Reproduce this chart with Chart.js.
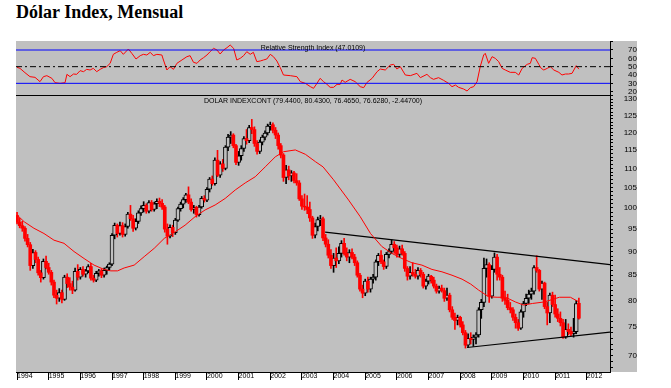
<!DOCTYPE html>
<html>
<head>
<meta charset="utf-8">
<script src="https://cdn.jsdelivr.net/npm/chart.js@4.4.0/dist/chart.umd.min.js"></script>
<style>
  body { margin: 0; background: #fff; width: 671px; height: 388px; position: relative; overflow: hidden; }
  #title { position: absolute; left: 16px; top: 3px; font: bold 18px "Liberation Serif", "Times New Roman", serif; line-height: 18px; white-space: nowrap; }
  #panel { position: absolute; left: 16px; top: 41px; width: 621px; height: 331px; background: #c0c0c0; }
  #rsiChart { position: absolute; left: 16px; top: 41px; }
  #priceChart { position: absolute; left: 16px; top: 95px; }
  .cap { position: absolute; left: 16px; width: 594px; text-align: center; font: 7px "Liberation Sans", Arial, sans-serif; line-height: 7px; color: #000; white-space: nowrap; z-index: 2; }
</style>
</head>
<body>
<div id="title">Dólar Index, Mensual</div>
<div id="panel"></div>
<canvas id="rsiChart" width="621" height="54"></canvas>
<canvas id="priceChart" width="621" height="293"></canvas>
<div class="cap" style="top:44px">Relative Strength Index (47.0109)</div>
<div class="cap" style="top:97px">DOLAR INDEXCONT (79.4400, 80.4300, 76.4650, 76.6280, -2.44700)</div>
<script>
// monthly bars, Jan 1994 .. Oct 2011 (index 0 = Jan 1994)
var opens = [
  98.2,96.6,95.8,95.2,92.9,91.5,87.0,89.8,88.3,85.5,84.5,87.9,
  86.6,85.6,83.6,81.0,80.4,81.5,80.2,84.6,83.3,82.6,82.0,85.8,
  84.6,86.2,85.2,85.9,86.8,84.4,84.0,85.4,85.9,85.0,86.0,86.6,
  87.3,93.6,95.9,94.0,95.8,93.8,95.6,98.5,97.4,95.2,96.8,98.8,
  99.8,100.6,99.2,101.3,99.6,101.0,101.6,101.1,100.2,95.0,93.4,95.4,
  94.2,97.1,99.8,100.9,102.0,103.2,101.4,99.6,100.1,98.4,100.2,102.3,
  101.9,104.6,107.2,106.0,112.2,108.2,111.2,110.0,115.8,118.6,119.2,116.2,
  111.6,113.4,115.4,118.2,117.6,121.4,120.8,116.8,114.6,117.2,118.6,119.8,
  121.8,122.2,120.6,119.2,116.2,113.6,107.6,109.6,108.0,108.8,106.8,106.2,
  102.2,100.4,100.2,99.6,97.6,93.6,95.6,97.2,97.4,93.0,91.6,89.2,
  87.0,88.6,88.0,89.6,91.8,89.6,88.8,89.8,88.8,87.6,85.0,82.2,
  81.4,83.8,82.2,84.2,84.6,87.8,89.2,87.8,86.8,89.4,90.0,91.6,
  90.8,89.4,90.6,89.6,86.4,84.8,85.6,85.2,84.8,86.0,85.2,82.8,
  83.8,84.8,84.0,82.8,81.8,82.4,81.9,80.4,81.0,78.2,76.8,76.2,
  76.8,75.4,74.0,71.8,73.0,72.8,73.2,73.6,78.2,79.6,86.4,87.2,
  80.8,86.2,88.8,85.2,84.6,80.4,80.0,78.6,78.2,76.8,75.8,74.8,
  77.8,79.4,80.4,81.2,81.8,86.6,86.0,82.2,83.4,78.8,77.6,81.0,
  79.2,77.4,76.6,75.8,73.2,74.6,74.2,73.8,74.2,79.44
];
var highs = [
  98.9,97.5,96.8,95.6,93.8,92.0,90.5,90.2,88.8,86.0,88.4,89.0,
  87.5,86.0,84.0,82.0,82.3,82.0,85.0,85.3,84.5,83.8,86.5,87.2,
  86.6,86.8,86.2,87.2,87.5,85.0,85.8,86.2,86.3,86.5,86.9,87.6,
  94.0,96.4,96.2,96.6,96.5,96.2,98.9,100.6,98.2,97.4,99.3,100.5,
  101.5,101.0,101.8,101.8,101.4,102.2,102.4,102.0,100.6,96.2,96.0,95.9,
  97.5,100.2,101.4,102.5,103.6,105.2,102.2,100.6,100.4,100.6,102.8,103.0,
  105.0,107.6,108.0,112.8,114.9,111.8,112.4,116.2,119.4,120.2,119.6,116.6,
  114.6,116.2,118.8,120.8,122.0,123.8,121.6,117.6,117.8,119.2,120.4,122.4,
  123.0,122.8,121.4,119.8,116.8,114.0,110.8,110.6,109.4,109.2,108.6,106.8,
  103.0,103.4,103.0,101.4,98.0,96.4,97.8,98.2,97.8,93.8,92.6,90.4,
  89.6,90.8,91.0,92.4,92.9,90.8,90.4,90.6,89.4,88.0,85.4,83.0,
  84.2,84.6,84.6,85.2,88.2,89.6,90.2,88.2,89.8,90.6,92.6,92.2,
  91.4,91.2,91.4,90.0,86.8,86.8,87.6,86.2,86.6,86.4,85.6,84.2,
  85.2,85.0,84.6,83.2,82.8,83.0,82.4,82.4,81.4,78.8,77.6,77.2,
  77.0,76.0,74.4,73.8,74.0,73.6,74.0,78.6,80.2,88.6,88.4,87.6,
  87.0,89.7,89.4,86.6,85.0,81.8,81.2,79.6,78.6,77.4,76.4,78.2,
  79.8,81.2,82.0,82.4,87.0,89.1,86.2,83.8,83.6,79.6,81.4,81.6,
  81.0,78.4,77.8,76.4,76.4,75.6,75.0,76.6,80.0,80.43
];
var lows = [
  96.2,95.3,94.5,92.3,91.0,86.0,86.4,87.6,85.0,83.6,84.2,86.3,
  85.2,83.0,80.5,79.3,79.8,79.5,80.0,82.5,82.0,81.3,81.8,84.0,
  84.2,84.8,84.6,85.5,84.0,83.6,83.7,84.8,84.5,84.6,85.2,86.0,
  87.0,92.8,93.2,93.6,93.2,93.4,95.2,97.0,94.5,94.8,96.3,98.2,
  99.0,98.7,98.8,99.2,99.2,99.8,100.3,99.6,94.3,91.6,93.0,93.3,
  93.8,96.8,99.2,100.0,101.3,101.0,99.2,98.7,97.8,98.0,99.9,101.4,
  101.5,103.9,105.6,105.6,107.8,107.6,109.2,109.6,114.8,116.8,115.6,111.0,
  110.8,112.2,114.6,116.6,117.0,119.6,116.0,113.8,114.0,116.4,117.8,119.2,
  120.6,119.8,118.2,115.2,112.8,106.6,106.0,107.0,106.6,106.2,105.6,101.8,
  99.6,99.4,98.6,96.8,92.9,93.0,94.6,95.8,92.4,91.0,88.6,86.4,
  85.6,86.6,87.4,88.8,89.2,88.0,87.6,88.4,87.0,84.6,81.8,80.5,
  80.9,81.6,81.6,83.4,84.0,87.0,87.4,86.2,86.4,88.6,89.6,89.6,
  88.8,88.8,89.2,85.8,84.0,84.2,84.8,84.4,84.2,84.6,82.4,82.2,
  83.2,83.4,82.4,81.4,81.4,81.6,79.8,80.0,77.8,76.4,74.6,75.4,
  75.0,73.6,71.3,71.4,72.0,71.6,72.0,73.2,76.6,78.8,84.6,79.6,
  80.4,85.6,84.0,84.0,79.8,79.2,78.2,77.6,76.2,74.8,74.4,74.6,
  76.8,79.0,79.4,80.2,81.2,85.6,81.8,80.2,78.4,75.4,75.8,78.8,
  76.8,76.0,75.2,73.0,73.0,73.6,73.4,73.2,73.8,76.465
];
var closes = [
  96.6,95.8,95.2,92.9,91.5,87.0,89.8,88.3,85.5,84.5,87.9,86.6,
  85.6,83.6,81.0,80.4,81.5,80.2,84.6,83.3,82.6,82.0,85.8,84.6,
  86.2,85.2,85.9,86.8,84.4,84.0,85.4,85.9,85.0,86.0,86.6,87.3,
  93.6,95.9,94.0,95.8,93.8,95.6,98.5,97.4,95.2,96.8,98.8,99.8,
  100.6,99.2,101.3,99.6,101.0,101.6,101.1,100.2,95.0,93.4,95.4,94.2,
  97.1,99.8,100.9,102.0,103.2,101.4,99.6,100.1,98.4,100.2,102.3,101.9,
  104.6,107.2,106.0,112.2,108.2,111.2,110.0,115.8,118.6,119.2,116.2,111.6,
  113.4,115.4,118.2,117.6,121.4,120.8,116.8,114.6,117.2,118.6,119.8,121.8,
  122.2,120.6,119.2,116.2,113.6,107.6,109.6,108.0,108.8,106.8,106.2,102.2,
  100.4,100.2,99.6,97.6,93.6,95.6,97.2,97.4,93.0,91.6,89.2,87.0,
  88.6,88.0,89.6,91.8,89.6,88.8,89.8,88.8,87.6,85.0,82.2,81.4,
  83.8,82.2,84.2,84.6,87.8,89.2,87.8,86.8,89.4,90.0,91.6,90.8,
  89.4,90.6,89.6,86.4,84.8,85.6,85.2,84.8,86.0,85.2,82.8,83.8,
  84.8,84.0,82.8,81.8,82.4,81.9,80.4,81.0,78.2,76.8,76.2,76.8,
  75.4,74.0,71.8,73.0,72.8,73.2,73.6,78.2,79.6,86.4,87.2,80.8,
  86.2,88.8,85.2,84.6,80.4,80.0,78.6,78.2,76.8,75.8,74.8,77.8,
  79.4,80.4,81.2,81.8,86.6,86.0,82.2,83.4,78.8,77.6,81.0,79.2,
  77.4,76.6,75.8,73.2,74.6,74.2,73.8,74.2,79.4,76.628
];

// red moving average (month index, value)
var maMonths = [0,2.7,6.4,10.2,14,17.8,21.6,25.4,29.2,33,35.5,38.1,40.6,44.4,48.2,52,55.8,60,63.7,67.5,71.3,75.1,78.9,82.7,86.5,90.3,94.1,97.9,101,105.5,109.3,113.1,116,120,125.7,130.1,134,138.3,142.1,145.9,149.7,153.5,157.3,161.1,164.9,168.7,172,175,178.8,182,185.2,188.9,192,195.4,200,205.6,209.8,213];
var maValues = [98.3,96.7,95.2,94.0,92.5,91.8,90.0,88.5,87.1,86.2,85.9,85.9,86.5,87.1,88.9,90.7,92.9,94.4,95.9,97.9,99.5,100.7,102.3,104.4,106.2,107.8,110.4,113.1,114.5,115.0,113.8,111.8,110.4,107.0,101.9,97.9,94.0,91.1,89.6,88.5,87.6,87.1,86.2,85.7,85.0,84.2,83.2,82.0,80.7,80.6,80.6,79.7,79.1,79.4,79.7,80.6,80.6,79.7];

// trend lines drawn on the chart
var upperTrendMonths = [116.8, 224.8];
var upperTrendValues = [94.3, 87.2];
var lowerTrendMonths = [170.6, 224.8];
var lowerTrendValues = [71.4, 74.1];

// RSI line (month index, value)
var rsiMonths = [0,1.1,3,4.9,6.8,8.7,10,11.3,13.2,14.4,16.3,18.2,18.9,20.1,21.4,22.6,23.9,25.2,26.4,27.7,28.9,30.2,31.5,32.7,34,35.3,36.5,37.8,39.1,40.3,42.2,43.5,45.1,46.7,47.9,49.2,50.5,51.7,53,54.9,55.5,56.8,58,59.3,60.6,62.5,64.4,65.6,66.9,68.2,69.4,70.7,72,73.2,74.5,75.8,77,78.3,79.6,80.8,82.1,83.3,84.6,85.9,87.1,88.4,89.6,90.9,92.2,93.4,94.7,96,97.2,98.5,99.8,101,103.6,106.1,107.4,109.3,111.2,112.4,113.7,114.9,116.2,117.5,118.7,120,121.3,122.5,123.2,124.4,126.3,128.2,130.1,131.4,132.7,134.6,136.5,137.7,139.6,141.5,142.8,144,145.3,147.2,149.1,151.6,152.9,155.4,156.7,157.9,159.8,161.7,163.6,164.9,166.2,167.4,169.3,170.6,171.9,173.1,174.4,175.6,176.9,177.5,178.8,180.1,181.3,182.6,183.9,185.1,187,188.9,190.2,191.5,193.4,194.6,195.3,196.5,197.8,198.7,199.7,201,202.2,203.5,205.4,206.6,207.9,209.1,210.4,212,213];
var rsiValues = [49.2,48,42.8,38,37.2,32,38,39.2,36,30.8,30,30.8,40.8,38,41.2,40.8,45.2,44,46.8,46,48,44,46.8,48.8,50,54,64.8,67.2,69.2,64.8,71.2,66,59.2,63.2,64.8,64,67.2,63.2,64.8,64,58,46,50,46.8,54,58,62,63.2,55.2,54,58,60.8,64,68,72,70,65.2,70,72.8,76,72,58,60,63.2,68,64.8,67.2,56,56.8,58,59.2,64.8,62,56.8,48.8,40,39.2,38,32,30,26,24,30,36,32,28.8,25.2,25.2,28.8,28.8,34,31.2,34.8,32,26,24.8,31.2,36,44,47.2,46,52,52.8,47.2,50,40,39.2,42,36.8,40.8,36.8,34.8,36.8,33.6,30,26,28,25.2,23.2,20.8,24.8,26,32,50,64,66,54,62,60,56,48,46,43.2,43.2,40,48,52.8,54,60.8,60,52.8,48,46,48,50,46,43.2,40,41.2,41.2,42,51.2,47];
var rsiLevels = [70, 50, 30];

var yearLabels = ['1994','1995','1996','1997','1998','1999','2000','2001','2002','2003','2004','2005','2006','2007','2008','2009','2010','2011','2012'];
var priceLabels = [70,75,80,85,90,95,100,105,110,115,120,125,130];
var rsiLabels = [20,30,40,50,60,70];

var X_MIN = -0.4, X_MAX = 224.8;
Chart.defaults.font.family = '"Liberation Sans", Arial, sans-serif';

function pts(xs, ys) {
  return xs.map(function(x, i) { return {x: x, y: ys[i]}; });
}

var upIdx = [], downIdx = [];
closes.forEach(function(c, i) { (c >= opens[i] ? upIdx : downIdx).push(i); });

var topLine = {
  id: 'topLine',
  afterDraw: function(chart) {
    var a = chart.chartArea, ctx = chart.ctx;
    ctx.save();
    ctx.strokeStyle = '#000';
    ctx.lineWidth = 1;
    ctx.beginPath();
    ctx.moveTo(a.left, a.top + 0.5);
    ctx.lineTo(a.right, a.top + 0.5);
    ctx.stroke();
    ctx.restore();
  }
};

var pCtx = document.getElementById('priceChart').getContext('2d');
var priceChart = new Chart(pCtx, {
  type: 'bar',
  data: {
    datasets: [
      { type: 'line', data: pts(maMonths, maValues), borderColor: '#ff0000', borderWidth: 1, pointRadius: 0, order: 0 },
      { type: 'line', data: pts(upperTrendMonths, upperTrendValues), borderColor: '#000', borderWidth: 1.2, pointRadius: 0, order: 0 },
      { type: 'line', data: pts(lowerTrendMonths, lowerTrendValues), borderColor: '#000', borderWidth: 1.2, pointRadius: 0, order: 0 },
      { data: downIdx.map(function(i) { return {x: i, y: [opens[i], closes[i]]}; }),
        backgroundColor: '#ff0000', borderWidth: 0, barThickness: 3, grouped: false, borderSkipped: false, order: 1 },
      { data: upIdx.map(function(i) { return {x: i, y: [opens[i], closes[i]]}; }),
        backgroundColor: '#c0c0c0', borderColor: '#000', borderWidth: 1, barThickness: 4, grouped: false, borderSkipped: false, order: 1 },
      { data: closes.map(function(c, i) { return {x: i, y: [lows[i], highs[i]]}; }),
        backgroundColor: closes.map(function(c, i) { return c >= opens[i] ? '#000' : '#ff0000'; }),
        borderWidth: 0, barThickness: 1, grouped: false, order: 2 }
    ]
  },
  options: {
    responsive: false,
    animation: false,
    events: [],
    layout: { padding: 0 },
    plugins: { legend: { display: false }, tooltip: { enabled: false } },
    scales: {
      x: {
        type: 'linear', min: X_MIN, max: X_MAX, offset: false,
        grid: { display: true, drawOnChartArea: false, offset: false, color: '#000', tickLength: 8 },
        border: { display: true, color: '#000', width: 1 },
        ticks: {
          autoSkip: false, maxRotation: 0, align: 'start', padding: -8, color: '#000', font: { size: 7 },
          callback: function(v) { var k = Math.round(v / 12); return yearLabels[k]; }
        },
        afterBuildTicks: function(s) { s.ticks = yearLabels.map(function(l, k) { return {value: k * 12}; }); },
        afterFit: function(s) { s.height = 16; s.paddingLeft = 0; s.paddingRight = 0; }
      },
      y: {
        type: 'logarithmic', position: 'right', min: 67.3, max: 131.3, beginAtZero: false,
        grid: { display: true, drawOnChartArea: false, color: '#000', tickLength: 3 },
        border: { display: true, color: '#000', width: 1 },
        ticks: {
          autoSkip: false, crossAlign: 'far', padding: 9, color: '#000', font: { size: 8 },
          callback: function(v) { return priceLabels.indexOf(v) >= 0 ? String(v) : ''; }
        },
        afterBuildTicks: function(s) {
          var t = [];
          for (var v = 68; v <= 131; v++) t.push({value: v});
          s.ticks = t;
        },
        afterFit: function(s) { s.width = 27; s.paddingTop = 0; s.paddingBottom = 0; }
      }
    }
  },
  plugins: [topLine]
});

var rCtx = document.getElementById('rsiChart').getContext('2d');
var levelStyles = [
  { color: '#0000ff', dash: [] },
  { color: '#000000', dash: [6, 3, 2, 3] },
  { color: '#0000ff', dash: [] }
];
var rsiDatasets = rsiLevels.map(function(lv, k) {
  return { data: [{x: X_MIN, y: lv}, {x: X_MAX, y: lv}], borderColor: levelStyles[k].color,
           borderDash: levelStyles[k].dash, borderWidth: 1, pointRadius: 0 };
});
rsiDatasets.push({ data: pts(rsiMonths, rsiValues), borderColor: '#ff0000', borderWidth: 1, pointRadius: 0 });

var rsiChart = new Chart(rCtx, {
  type: 'line',
  data: { datasets: rsiDatasets },
  options: {
    responsive: false,
    animation: false,
    events: [],
    layout: { padding: 0 },
    plugins: { legend: { display: false }, tooltip: { enabled: false } },
    scales: {
      x: { type: 'linear', min: X_MIN, max: X_MAX, display: false },
      y: {
        type: 'linear', position: 'right', min: 16, max: 80.8,
        grid: { display: true, drawOnChartArea: false, color: '#000', tickLength: 3 },
        border: { display: true, color: '#000', width: 1 },
        ticks: {
          autoSkip: false, crossAlign: 'far', padding: 13, color: '#000', font: { size: 8 },
          callback: function(v) { return rsiLabels.indexOf(v) >= 0 ? String(v) : ''; }
        },
        afterBuildTicks: function(s) { s.ticks = [20, 30, 40, 50, 60, 70, 80].map(function(v) { return {value: v}; }); },
        afterFit: function(s) { s.width = 27; s.paddingTop = 0; s.paddingBottom = 0; }
      }
    }
  }
});
</script>
</body>
</html>
